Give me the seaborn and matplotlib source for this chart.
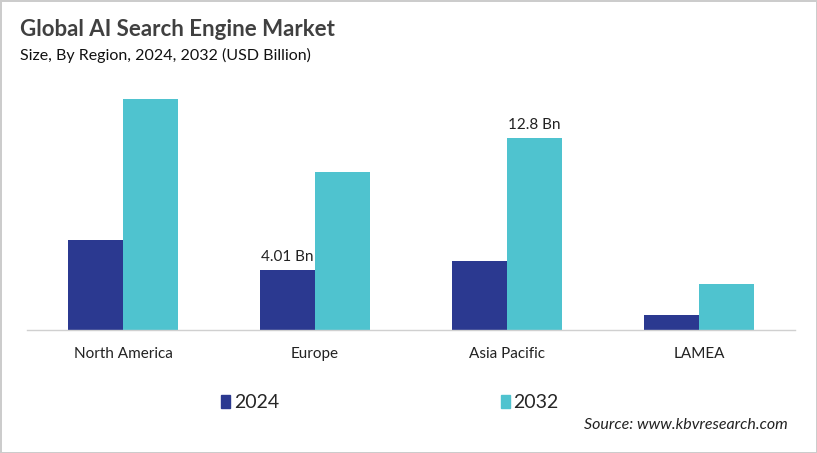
import matplotlib
matplotlib.use("Agg")
import matplotlib.pyplot as plt
import pandas as pd
import seaborn as sns

# values (USD Billion)
regions = ["North America", "Europe", "Asia Pacific", "LAMEA"]
years = ["2024", "2032"]
size_2024 = [6.0, 4.01, 4.6, 1.0]
size_2032 = [15.4, 10.5, 12.8, 3.1]
labels_2024 = ["", "4.01 Bn", "", ""]
labels_2032 = ["", "", "12.8 Bn", ""]

NAVY = "#2b3990"
TEAL = "#4fc3cf"

sns.set_theme(style="white")
plt.rcParams["font.family"] = ["Lato", "DejaVu Sans"]

df = pd.DataFrame({
    "Region": regions * 2,
    "Year": [years[0]] * 4 + [years[1]] * 4,
    "Size": size_2024 + size_2032,
})

fig = plt.figure(figsize=(8.17, 4.53), dpi=100, edgecolor="#cccccc", linewidth=2)
ax = fig.add_axes([27 / 817, 1 - 330 / 453, 768 / 817, 240 / 453])

sns.barplot(data=df, x="Region", y="Size", hue="Year", order=regions,
            hue_order=years, palette=[NAVY, TEAL], width=0.57, gap=0,
            saturation=1, errorbar=None, linewidth=0, ax=ax)

ax.bar_label(ax.containers[0], labels=labels_2024, padding=4, fontsize=11, color="#222222")
ax.bar_label(ax.containers[1], labels=labels_2032, padding=4, fontsize=11, color="#222222")

ax.set_ylim(0, 16)
ax.set_xlim(-0.5, 3.5)
ax.set_xlabel("")
ax.set_ylabel("")
ax.set_yticks([])
ax.tick_params(axis="x", length=0, pad=12, labelsize=11, labelcolor="#222222")
for side in ["top", "left", "right"]:
    ax.spines[side].set_visible(False)
ax.spines["bottom"].set_color("#d0d0d0")
ax.spines["bottom"].set_linewidth(1)

ax.get_legend().remove()
handles = [plt.Rectangle((0, 0), 1, 1, color=c) for c in (NAVY, TEAL)]
fig.legend(handles, years, loc="center", bbox_to_anchor=(390 / 817, 1 - 403 / 453),
           ncol=2, frameon=False, fontsize=14, handlelength=0.45, handleheight=0.65,
           handletextpad=0.2, columnspacing=11.4)

fig.text(20 / 817, 1 - 29 / 453, "Global AI Search Engine Market", fontsize=16,
         fontweight="bold", color="#404040", va="center")
fig.text(20 / 817, 1 - 55 / 453, "Size, By Region, 2024, 2032 (USD Billion)",
         fontsize=11.5, color="#111111", va="center")
fig.text(788 / 817, 1 - 425 / 453, "Source: www.kbvresearch.com", fontsize=11.5,
         style="italic", color="#222222", ha="right", va="center")

fig.savefig("out.png", dpi=100)
